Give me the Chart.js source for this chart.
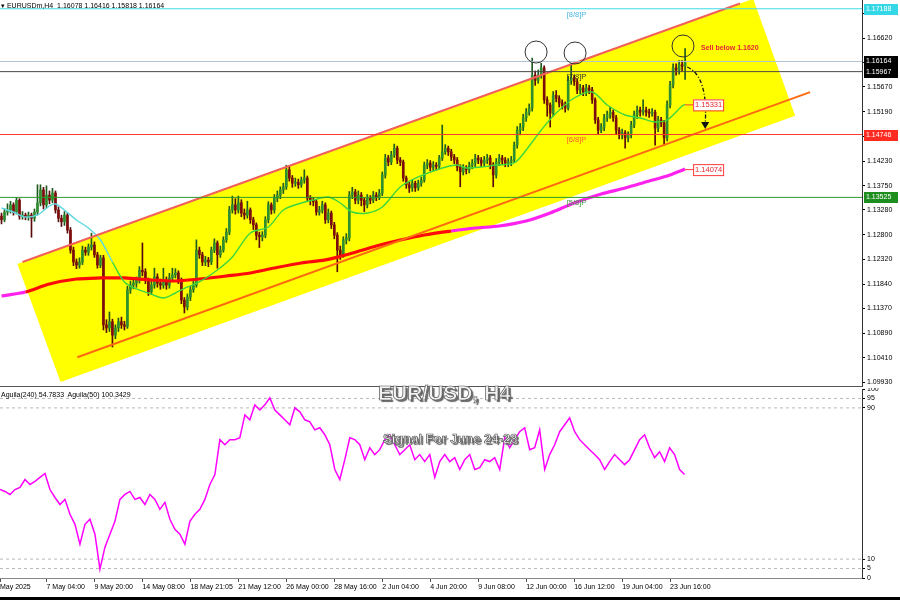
<!DOCTYPE html>
<html>
<head>
<meta charset="utf-8">
<script src="https://cdn.jsdelivr.net/npm/chart.js@4/dist/chart.umd.min.js"></script>
<style>
body{margin:0;background:#fff;width:900px;height:600px;overflow:hidden;position:relative;font-family:"Liberation Sans",Arial,sans-serif}
canvas{position:absolute;left:0}
#main{top:0}
#osc{top:388px}
.txt{position:absolute;white-space:nowrap;color:#000;font-size:7px;line-height:9px}
.big{position:absolute;white-space:nowrap;font-weight:bold;color:#f2f2f2;-webkit-text-stroke:0.7px #555;text-shadow:2px 2px 1px #666}
#frame{position:absolute;left:0;top:597px;width:900px;height:3px;background:#000}
</style>
</head>
<body>
<canvas id="main" width="900" height="388"></canvas>
<canvas id="osc" width="900" height="212"></canvas>
<div class="txt" style="left:1px;top:1px">&#9662; EURUSDm,H4&nbsp; 1.16078 1.16416 1.15818 1.16164</div>
<div class="txt" style="left:1px;top:390px">Aguila(240) 54.7833&nbsp; Aguila(50) 100.3429</div>
<div class="big" style="left:378px;top:381px;font-size:21px">EUR/USD, H4</div>
<div class="big" style="left:383px;top:431px;font-size:13px">Signal For June 24-28</div>
<div id="frame"></div>
<script>
// ---- candles (EURUSD H4) ----
const opens = [
1.1316,1.1309,1.1324,1.1328,1.1338,1.1324,1.1347,1.1316,1.1318,1.1314,
1.1318,1.1312,1.1324,1.1342,1.1367,1.1338,1.1357,1.1347,1.1361,1.1328,
1.1312,1.1305,1.1318,1.1289,1.1250,1.1227,1.1221,1.1227,1.1250,1.1246,
1.1256,1.1260,1.1241,1.1221,1.1235,1.1105,1.1099,1.1111,1.1085,1.1099,
1.1111,1.1105,1.1102,1.1173,1.1182,1.1186,1.1192,1.1211,1.1208,1.1192,
1.1169,1.1182,1.1198,1.1186,1.1182,1.1192,1.1182,1.1196,1.1202,1.1206,
1.1192,1.1153,1.1140,1.1159,1.1173,1.1182,1.1250,1.1241,1.1227,1.1231,
1.1227,1.1250,1.1264,1.1241,1.1250,1.1270,1.1285,1.1328,1.1338,1.1328,
1.1342,1.1322,1.1318,1.1328,1.1309,1.1299,1.1279,1.1276,1.1279,1.1309,
1.1338,1.1328,1.1351,1.1357,1.1367,1.1373,1.1406,1.1390,1.1380,1.1382,
1.1377,1.1386,1.1390,1.1351,1.1347,1.1344,1.1324,1.1328,1.1338,1.1309,
1.1322,1.1299,1.1279,1.1250,1.1241,1.1270,1.1274,1.1357,1.1363,1.1347,
1.1357,1.1347,1.1338,1.1351,1.1347,1.1357,1.1353,1.1361,1.1396,1.1429,
1.1421,1.1435,1.1448,1.1425,1.1421,1.1390,1.1377,1.1371,1.1380,1.1371,
1.1380,1.1386,1.1415,1.1419,1.1411,1.1415,1.1413,1.1429,1.1441,1.1448,
1.1441,1.1431,1.1425,1.1411,1.1402,1.1410,1.1406,1.1415,1.1419,1.1429,
1.1425,1.1419,1.1425,1.1429,1.1415,1.1396,1.1421,1.1429,1.1425,1.1419,
1.1421,1.1425,1.1454,1.1483,1.1489,1.1507,1.1518,1.1526,1.1590,1.1580,
1.1590,1.1604,1.1542,1.1532,1.1516,1.1551,1.1545,1.1536,1.1532,1.1526,
1.1580,1.1584,1.1577,1.1561,1.1565,1.1557,1.1565,1.1561,1.1542,1.1503,
1.1483,1.1489,1.1507,1.1513,1.1518,1.1507,1.1483,1.1474,1.1478,1.1468,
1.1474,1.1493,1.1513,1.1522,1.1518,1.1522,1.1518,1.1516,1.1518,1.1487,
1.1503,1.1497,1.1468,1.1532,1.1571,1.1604,1.1600,1.1610,1.16078];
const highs = [
1.1322,1.1330,1.1340,1.1345,1.1342,1.1352,1.1350,1.1325,1.1322,1.1324,
1.1322,1.1330,1.1377,1.1377,1.1372,1.1375,1.1365,1.1370,1.1365,1.1334,
1.1318,1.1325,1.1322,1.1294,1.1256,1.1233,1.1235,1.1258,1.1256,1.1262,
1.1283,1.1266,1.1246,1.1240,1.1240,1.1115,1.1130,1.1116,1.1105,1.1118,
1.1120,1.1112,1.1180,1.1190,1.1195,1.1198,1.1218,1.1264,1.1214,1.1196,
1.1190,1.1215,1.1204,1.1194,1.1215,1.1198,1.1205,1.1215,1.1214,1.1210,
1.1196,1.1158,1.1165,1.1180,1.1190,1.1270,1.1256,1.1246,1.1238,1.1236,
1.1256,1.1272,1.1268,1.1258,1.1276,1.1292,1.1335,1.1355,1.1350,1.1355,
1.1348,1.1330,1.1345,1.1332,1.1314,1.1303,1.1285,1.1286,1.1315,1.1344,
1.1342,1.1358,1.1365,1.1373,1.1380,1.1415,1.1412,1.1395,1.1390,1.1388,
1.1392,1.1406,1.1394,1.1356,1.1352,1.1348,1.1335,1.1345,1.1342,1.1330,
1.1326,1.1304,1.1284,1.1258,1.1276,1.1282,1.1364,1.1372,1.1368,1.1365,
1.1362,1.1352,1.1358,1.1356,1.1364,1.1362,1.1368,1.1402,1.1436,1.1434,
1.1442,1.1456,1.1452,1.1430,1.1425,1.1394,1.1382,1.1386,1.1384,1.1386,
1.1392,1.1421,1.1426,1.1424,1.1422,1.1420,1.1434,1.1493,1.1455,1.1452,
1.1446,1.1436,1.1430,1.1416,1.1416,1.1414,1.1421,1.1426,1.1436,1.1434,
1.1430,1.1432,1.1436,1.1434,1.1420,1.1428,1.1436,1.1434,1.1430,1.1428,
1.1432,1.1460,1.1490,1.1496,1.1514,1.1525,1.1534,1.1623,1.1598,1.1600,
1.1613,1.1608,1.1548,1.1536,1.1558,1.1560,1.1550,1.1542,1.1538,1.1588,
1.1613,1.1590,1.1582,1.1572,1.1570,1.1572,1.1570,1.1566,1.1546,1.1508,
1.1496,1.1514,1.1520,1.1528,1.1522,1.1512,1.1488,1.1485,1.1482,1.1480,
1.1500,1.1520,1.1530,1.1528,1.1542,1.1528,1.1524,1.1525,1.1522,1.1510,
1.1508,1.1502,1.1540,1.1578,1.1612,1.1612,1.1618,1.1618,1.16416];
const lows = [
1.1301,1.1305,1.1318,1.1322,1.1318,1.1320,1.1310,1.1310,1.1309,1.1308,
1.1275,1.1306,1.1318,1.1336,1.1330,1.1332,1.1340,1.1342,1.1322,1.1305,
1.1296,1.1298,1.1283,1.1244,1.1220,1.1214,1.1215,1.1222,1.1240,1.1240,
1.1250,1.1236,1.1215,1.1216,1.1095,1.1090,1.1092,1.1062,1.1078,1.1092,
1.1098,1.1095,1.1098,1.1166,1.1175,1.1178,1.1186,1.1200,1.1185,1.1162,
1.1164,1.1176,1.1178,1.1174,1.1176,1.1174,1.1176,1.1190,1.1196,1.1185,
1.1146,1.1128,1.1134,1.1152,1.1168,1.1178,1.1234,1.1220,1.1220,1.1218,
1.1222,1.1245,1.1215,1.1236,1.1246,1.1265,1.1280,1.1322,1.1320,1.1322,
1.1315,1.1310,1.1312,1.1302,1.1290,1.1270,1.1255,1.1268,1.1274,1.1303,
1.1320,1.1322,1.1344,1.1350,1.1360,1.1368,1.1384,1.1372,1.1374,1.1370,
1.1372,1.1380,1.1345,1.1338,1.1336,1.1318,1.1318,1.1322,1.1302,1.1303,
1.1292,1.1272,1.1208,1.1232,1.1236,1.1262,1.1268,1.1350,1.1340,1.1340,
1.1336,1.1325,1.1332,1.1340,1.1342,1.1346,1.1348,1.1356,1.1390,1.1414,
1.1416,1.1430,1.1418,1.1414,1.1384,1.1370,1.1362,1.1364,1.1364,1.1366,
1.1374,1.1382,1.1408,1.1404,1.1404,1.1406,1.1408,1.1424,1.1436,1.1434,
1.1424,1.1418,1.1404,1.1373,1.1396,1.1398,1.1400,1.1408,1.1412,1.1418,
1.1412,1.1414,1.1418,1.1408,1.1373,1.1390,1.1414,1.1418,1.1412,1.1412,
1.1414,1.1420,1.1448,1.1474,1.1482,1.1500,1.1512,1.1520,1.1570,1.1574,
1.1584,1.1535,1.1510,1.1489,1.1510,1.1538,1.1528,1.1524,1.1518,1.1522,
1.1572,1.1570,1.1554,1.1554,1.1550,1.1550,1.1554,1.1535,1.1496,1.1476,
1.1478,1.1482,1.1500,1.1506,1.1500,1.1476,1.1466,1.1466,1.1448,1.1460,
1.1468,1.1488,1.1506,1.1510,1.1512,1.1510,1.1508,1.1510,1.1454,1.1480,
1.1490,1.1454,1.1462,1.1526,1.1565,1.1590,1.1592,1.1598,1.15818];
const closes = [
1.1309,1.1324,1.1328,1.1338,1.1324,1.1347,1.1316,1.1318,1.1314,1.1318,
1.1312,1.1324,1.1342,1.1367,1.1338,1.1357,1.1347,1.1361,1.1328,1.1312,
1.1305,1.1318,1.1289,1.1250,1.1227,1.1221,1.1227,1.1250,1.1246,1.1256,
1.1260,1.1241,1.1221,1.1235,1.1105,1.1099,1.1111,1.1085,1.1099,1.1111,
1.1105,1.1102,1.1173,1.1182,1.1186,1.1192,1.1211,1.1208,1.1192,1.1169,
1.1182,1.1198,1.1186,1.1182,1.1192,1.1182,1.1196,1.1202,1.1206,1.1192,
1.1153,1.1140,1.1159,1.1173,1.1182,1.1250,1.1241,1.1227,1.1231,1.1227,
1.1250,1.1264,1.1241,1.1250,1.1270,1.1285,1.1328,1.1338,1.1328,1.1342,
1.1322,1.1318,1.1328,1.1309,1.1299,1.1279,1.1276,1.1279,1.1309,1.1338,
1.1328,1.1351,1.1357,1.1367,1.1373,1.1406,1.1390,1.1380,1.1382,1.1377,
1.1386,1.1390,1.1351,1.1347,1.1344,1.1324,1.1328,1.1338,1.1309,1.1322,
1.1299,1.1279,1.1250,1.1241,1.1270,1.1274,1.1357,1.1363,1.1347,1.1357,
1.1347,1.1338,1.1351,1.1347,1.1357,1.1353,1.1361,1.1396,1.1429,1.1421,
1.1435,1.1448,1.1425,1.1421,1.1390,1.1377,1.1371,1.1380,1.1371,1.1380,
1.1386,1.1415,1.1419,1.1411,1.1415,1.1413,1.1429,1.1441,1.1448,1.1441,
1.1431,1.1425,1.1411,1.1402,1.1410,1.1406,1.1415,1.1419,1.1429,1.1425,
1.1419,1.1425,1.1429,1.1415,1.1396,1.1421,1.1429,1.1425,1.1419,1.1421,
1.1425,1.1454,1.1483,1.1489,1.1507,1.1518,1.1526,1.1590,1.1580,1.1590,
1.1604,1.1542,1.1532,1.1516,1.1551,1.1545,1.1536,1.1532,1.1526,1.1580,
1.1584,1.1577,1.1561,1.1565,1.1557,1.1565,1.1561,1.1542,1.1503,1.1483,
1.1489,1.1507,1.1513,1.1518,1.1507,1.1483,1.1474,1.1478,1.1468,1.1474,
1.1493,1.1513,1.1522,1.1518,1.1522,1.1518,1.1516,1.1518,1.1487,1.1503,
1.1497,1.1468,1.1532,1.1571,1.1604,1.1600,1.1610,1.16078,1.16164];

// moving averages at these bar indices
const fastIdx = [0,4,8,12,16,18,21,25,29,33,37,41,45,49,54,58,62,66,72,77,83,89,94,100,104,109,113,117,122,127,133,139,147,152,155,160,165,171,175,180,185,191,197,202,208,213,218,222,227,228];
const fastVals = [1.13319,1.13241,1.13144,1.13183,1.13358,1.13397,1.13280,1.13086,1.12930,1.12697,1.12270,1.11882,1.11746,1.11668,1.11571,1.11668,1.11785,1.11882,1.12114,1.12367,1.12833,1.12950,1.13280,1.13416,1.13474,1.13532,1.13416,1.13241,1.13222,1.13338,1.13726,1.13921,1.14096,1.14154,1.14096,1.14115,1.14154,1.14193,1.14445,1.14832,1.15164,1.15455,1.15571,1.15319,1.15125,1.15067,1.14990,1.15028,1.15300,1.15331];
const slowIdx = [0,8,16,25,33,41,50,58,66,75,83,91,100,108,116,125,133,141,150,158,166,175,183,191,200,208,216,222,228];
const slowVals = [1.11610,1.11688,1.11843,1.11940,1.11960,1.11960,1.11921,1.11901,1.11940,1.11998,1.12057,1.12154,1.12251,1.12310,1.12426,1.12581,1.12697,1.12795,1.12872,1.12930,1.12969,1.13066,1.13222,1.13416,1.13591,1.13707,1.13843,1.13940,1.14074];

// horizontal levels (Murrey [8/8], bid, [7/8], [6/8], [5/8])
const levelPrices = [1.17188, 1.16164, 1.15967, 1.14746, 1.13525];
const levelNames = ['[8/8]P', '', '[7/8]P', '[6/8]P', '[5/8]P'];

// channel: upper / lower line ends and the yellow band corners (bar index, price)
const upperIdx = [7, 246.3], upperVals = [1.1227, 1.1729];
const lowerIdx = [25.3, 269.7], lowerVals = [1.1042, 1.1557];
const bandIdx = [5.3, 250.7, 264.7, 19.7], bandVals = [1.1223, 1.1738, 1.1511, 1.0994];

// circled tops
const circleIdx = [178.3, 191.3, 227.3], circleVals = [1.16348, 1.16329, 1.16465];

const priceTicks = [1.17100, 1.16620, 1.16140, 1.15670, 1.15190, 1.14710, 1.14230, 1.13750, 1.13280, 1.12800, 1.12320, 1.11840, 1.11370, 1.10890, 1.10410, 1.09930];

// x axis
const timeIdx = [-0.5, 15, 31, 47, 63, 79, 95, 111, 127, 143, 159, 175, 191, 207, 223];
const timeLabels = ['May 2025', '7 May 04:00', '9 May 20:00', '14 May 08:00', '18 May 21:05', '21 May 12:00', '26 May 00:00', '28 May 16:00', '2 Jun 04:00', '4 Jun 20:00', '9 Jun 08:00', '12 Jun 00:00', '16 Jun 12:00', '19 Jun 04:00', '23 Jun 16:00'];

// Aguila oscillator, one reading every 5 px (5/3 bar)
const oscVals = [46.8,45.8,44.2,46.8,47.9,52.1,49.5,51.1,53.2,55.3,46.8,42.6,38.9,41.6,33.7,28.4,17.9,28.4,31.1,23.2,
4.7,16.3,23.2,30.0,41.6,44.2,45.8,41.6,42.6,38.9,44.2,41.6,36.3,40.0,31.1,25.8,23.2,17.9,30.0,33.7,
36.3,41.6,49.5,54.7,73.2,70.5,73.2,73.2,74.2,86.3,83.7,91.6,88.9,91.6,95.3,88.9,86.3,83.7,81.1,90.0,
87.9,83.7,82.6,78.4,79.5,75.8,70.5,57.4,52.1,62.6,74.2,73.2,70.5,62.6,68.9,65.3,67.9,73.2,75.8,70.5,
65.3,67.9,70.5,62.6,65.3,61.6,65.3,53.2,61.6,65.3,61.6,63.7,57.4,62.6,65.3,57.4,58.4,62.6,61.6,63.7,
57.4,74.2,68.9,73.2,77.4,79.5,67.9,68.9,78.4,57.4,65.3,70.5,77.4,81.1,84.7,77.4,73.2,70.5,67.9,65.3,
62.6,57.4,61.6,65.3,62.6,60.0,62.6,67.9,73.2,75.8,68.9,63.7,66.8,61.6,68.9,65.3,57.4,54.8];
const oscStep = 5 / 3;
const oscTicks = [0, 5, 10, 90, 95, 100];
const oscLevels = [95, 90, 10, 5];

const FONT = 'Liberation Sans';
const X_MIN = -0.5, X_MAX = 287;
const axisFont = { family: FONT, size: 7 };

const bull = '#2f8f2f', bear = '#7d0c0c';
const candleColor = opens.map((o, i) => closes[i] >= o ? bull : bear);
const wickColor = opens.map((o, i) => closes[i] >= o ? '#1f5a1f' : '#5a0a0a');

function flatLine(v, color, dash) {
    return {
        type: 'line', data: [{ x: X_MIN, y: v }, { x: X_MAX, y: v }],
        borderColor: color, borderWidth: 1, borderDash: dash || [], pointRadius: 0, order: 1
    };
}

// no extra room for edge labels: chart area must fill the panel
function tightY(width) {
    return s => {
        s.width = width;
        s.paddingTop = 0;
        s.paddingBottom = 0;
    };
}

const levelColors = ['#3fdde8', '#b4c2d2', '#4a4a4a', '#ff3a2e', '#2c9a2c'];
const labelBg = ['#33d7e6', '#000', '#000', '#ff2a20', '#1e8e1e'];
const murreyColors = ['#49b6e0', '', '#333', '#ff5a2a', '#3a9a3a'];

const overlay = {
    id: 'overlay',
    beforeDatasetsDraw(chart) {
        const { ctx, scales: { x, y }, chartArea: a } = chart;
        ctx.save();
        ctx.beginPath();
        ctx.rect(a.left, a.top, a.width, a.height);
        ctx.clip();
        ctx.beginPath();
        bandIdx.forEach((v, k) => {
            const px = x.getPixelForValue(v), py = y.getPixelForValue(bandVals[k]);
            k ? ctx.lineTo(px, py) : ctx.moveTo(px, py);
        });
        ctx.closePath();
        ctx.fillStyle = '#ffff00';
        ctx.fill();
        ctx.restore();
    },
    afterDatasetsDraw(chart) {
        const { ctx, scales: { x, y }, chartArea: a } = chart;
        ctx.save();

        // murrey labels
        ctx.font = '7.5px ' + FONT;
        ctx.textBaseline = 'top';
        levelPrices.forEach((p, k) => {
            if (!levelNames[k]) return;
            ctx.fillStyle = murreyColors[k];
            ctx.fillText(levelNames[k], x.getPixelForValue(188.5), y.getPixelForValue(p) + 2);
        });

        // circles on the tops
        ctx.strokeStyle = '#333';
        ctx.lineWidth = 1;
        circleIdx.forEach((v, k) => {
            ctx.beginPath();
            ctx.arc(x.getPixelForValue(v), y.getPixelForValue(circleVals[k]), 11, 0, Math.PI * 2);
            ctx.stroke();
        });

        // sell note
        ctx.font = 'bold 7px ' + FONT;
        ctx.fillStyle = '#e8243a';
        ctx.textBaseline = 'middle';
        ctx.fillText('Sell below 1.1620', x.getPixelForValue(233.3), y.getPixelForValue(1.16426));

        // dashed arrow down to the channel floor
        const x0 = x.getPixelForValue(228.7), y0 = y.getPixelForValue(1.16057);
        const x1 = x.getPixelForValue(234.7), y1 = y.getPixelForValue(1.14872);
        ctx.strokeStyle = '#111';
        ctx.lineWidth = 1.3;
        ctx.setLineDash([4, 2, 1, 2]);
        ctx.beginPath();
        ctx.moveTo(x0, y0);
        ctx.bezierCurveTo(x0 + 14, y0 + 6, x1 + 2, y0 + 25, x1, y1 - 4);
        ctx.stroke();
        ctx.setLineDash([]);
        ctx.fillStyle = '#111';
        ctx.beginPath();
        ctx.moveTo(x1 - 4, y1 - 6);
        ctx.lineTo(x1 + 4, y1 - 6);
        ctx.lineTo(x1, y1 + 1);
        ctx.closePath();
        ctx.fill();

        // MA end value tags
        ctx.font = '7.5px ' + FONT;
        [[fastIdx, fastVals], [slowIdx, slowVals]].forEach(([ix, vs]) => {
            const n = vs.length - 1;
            const px = x.getPixelForValue(ix[n]), py = y.getPixelForValue(vs[n]);
            ctx.strokeStyle = '#ff3a3a';
            ctx.lineWidth = 1;
            ctx.beginPath();
            ctx.moveTo(px, py + 0.5);
            ctx.lineTo(px + 8, py + 0.5);
            ctx.stroke();
            ctx.fillStyle = '#fff';
            ctx.fillRect(px + 8, py - 5, 30, 11);
            ctx.strokeRect(px + 8.5, py - 4.5, 30, 11);
            ctx.fillStyle = '#e8242a';
            ctx.textBaseline = 'middle';
            ctx.fillText(vs[n].toFixed(5), px + 10, py + 1);
        });
        ctx.restore();
    },
    afterDraw(chart) {
        const { ctx, scales: { y }, chartArea: a } = chart;
        ctx.save();
        ctx.strokeStyle = '#555';
        ctx.lineWidth = 1;
        ctx.beginPath();
        ctx.moveTo(0, a.bottom + 0.5);
        ctx.lineTo(a.right + 1, a.bottom + 0.5);
        ctx.stroke();
        ctx.font = '7px ' + FONT;
        ctx.textBaseline = 'middle';
        levelPrices.forEach((p, k) => {
            const py = Math.round(y.getPixelForValue(p));
            ctx.fillStyle = labelBg[k];
            ctx.fillRect(a.right + 2, py - 5, 34, 11);
            ctx.fillStyle = '#fff';
            ctx.fillText(p.toFixed(5), a.right + 4, py + 0.5);
        });
        ctx.restore();
    }
};

const mainDatasets = [
    {
        type: 'bar', label: 'wick', order: 10, grouped: false, barThickness: 1,
        data: highs.map((h, i) => ({ x: i, y: [lows[i], h] })),
        backgroundColor: wickColor, borderWidth: 0
    },
    {
        type: 'bar', label: 'body', order: 9, grouped: false, barThickness: 2,
        data: opens.map((o, i) => ({ x: i, y: [o, closes[i]] })),
        backgroundColor: candleColor, borderWidth: 0
    },
    {
        type: 'line', label: 'MA slow', order: 8,
        data: slowIdx.map((v, k) => ({ x: v, y: slowVals[k] })),
        borderColor: '#ff0000', borderWidth: 3.2, pointRadius: 0, tension: 0.3,
        segment: { borderColor: c => (c.p0.parsed.x < 8 || c.p0.parsed.x >= 150) ? '#ff22ee' : '#ff0a0a' }
    },
    {
        type: 'line', label: 'MA fast', order: 7,
        data: fastIdx.map((v, k) => ({ x: v, y: fastVals[k] })),
        borderColor: '#3ed63e', borderWidth: 1.4, pointRadius: 0, tension: 0.3,
        segment: { borderColor: c => c.p0.parsed.x < 35 ? '#5fd8e0' : '#3ed63e' }
    },
    {
        type: 'line', label: 'upper', order: 6,
        data: upperIdx.map((v, k) => ({ x: v, y: upperVals[k] })),
        borderColor: '#f2605a', borderWidth: 2, pointRadius: 0
    },
    {
        type: 'line', label: 'lower', order: 6,
        data: lowerIdx.map((v, k) => ({ x: v, y: lowerVals[k] })),
        borderColor: '#ff6a10', borderWidth: 2, pointRadius: 0
    }
];
levelPrices.forEach((p, k) => mainDatasets.push(flatLine(p, levelColors[k])));

new Chart(document.getElementById('main'), {
    type: 'bar',
    data: { datasets: mainDatasets },
    options: {
        responsive: false, animation: false,
        layout: { padding: { top: 0, bottom: 2, left: 0, right: 0 } },
        plugins: { legend: { display: false }, tooltip: { enabled: false } },
        scales: {
            x: { type: 'linear', min: X_MIN, max: X_MAX, display: false, offset: false },
            y: {
                position: 'right', min: 1.09862, max: 1.17358,
                afterFit: tightY(38),
                afterBuildTicks(s) { s.ticks = priceTicks.map(v => ({ value: v })); },
                ticks: { autoSkip: false, callback: v => v.toFixed(5), font: axisFont, color: '#000', padding: 2 },
                grid: { drawOnChartArea: false, tickLength: 3, color: '#000' },
                border: { color: '#333' }
            }
        }
    },
    plugins: [overlay]
});

// ---- oscillator panel ----
const oscDatasets = oscLevels.map(v => flatLine(v, '#b8b8b8', [3, 3]));
oscDatasets.push({
    type: 'line', label: 'Aguila', order: 0,
    data: oscVals.map((v, k) => ({ x: X_MIN + k * oscStep, y: v })),
    borderColor: '#ff00ff', borderWidth: 1.5, pointRadius: 0
});

new Chart(document.getElementById('osc'), {
    type: 'line',
    data: { datasets: oscDatasets },
    options: {
        responsive: false, animation: false,
        layout: { padding: { top: 1, bottom: 0, left: 0, right: 0 } },
        plugins: { legend: { display: false }, tooltip: { enabled: false } },
        scales: {
            x: {
                type: 'linear', min: X_MIN, max: X_MAX,
                afterFit(s) { s.height = 22; s.paddingLeft = 0; s.paddingRight = 0; },
                afterBuildTicks(s) { s.ticks = timeIdx.map(v => ({ value: v })); },
                ticks: { autoSkip: false, maxRotation: 0, align: 'start', font: axisFont, color: '#000', padding: 1,
                    callback: (v, i) => timeLabels[i] },
                grid: { drawOnChartArea: false, tickLength: 4, color: '#555' },
                border: { color: '#888' }
            },
            y: {
                position: 'right', min: 0, max: 100,
                afterFit: tightY(38),
                afterBuildTicks(s) { s.ticks = oscTicks.map(v => ({ value: v })); },
                ticks: { autoSkip: false, font: axisFont, color: '#000', padding: 2 },
                grid: { drawOnChartArea: false, tickLength: 3, color: '#000' },
                border: { color: '#333' }
            }
        }
    }
});
</script>
</body>
</html>
